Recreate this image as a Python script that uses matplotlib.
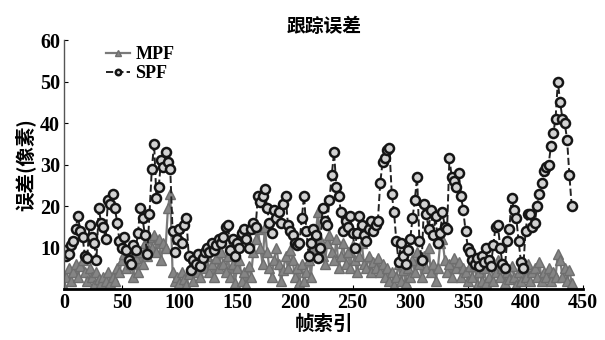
import matplotlib
matplotlib.use('Agg')
import matplotlib.pyplot as plt
import numpy as np

# frame index (every second frame)
frames = np.arange(0, 441, 2)

# tracking error, pixels
mpf_err = [
    0.5, 3, 5, 2, 4, 6, 3, 5.5, 7, 4,
    2, 5, 3, 1, 4, 2.5, 1.5, 3, 2, 4,
    1.5, 3, 2, 5, 4, 7, 8.5, 5, 9, 6,
    3, 7.5, 4, 9, 6, 11, 8, 12.5, 10, 13,
    9, 12, 7, 11, 10, 19.5, 23, 4, 2, 3,
    1.5, 4, 2.5, 1, 3.5, 5, 2, 6, 4, 3,
    7, 5, 8, 4, 6, 3, 7.5, 5, 9, 6,
    4, 8, 3, 6, 1.5, 5, 7, 2, 4, 1,
    5.5, 3, 9, 12, 14.5, 10, 6, 15, 9, 5,
    3, 7, 10, 6, 2, 4.5, 8, 5, 9.5, 7,
    3, 5, 1.5, 6, 2, 4, 7, 3, 10, 13,
    18.5, 12, 8, 6, 11, 13, 9, 7, 12, 5,
    8, 11, 6, 9, 5, 10.5, 7, 4, 8, 11,
    6, 5, 8, 4, 6.5, 5, 7.5, 4, 6, 3,
    5, 2, 4, 1, 3, 6, 2, 4.5, 1.5, 5,
    3, 7, 4, 9, 6, 3, 8, 5, 10, 4,
    6, 2, 5, 11, 12, 7, 4, 6, 3, 7.5,
    5, 6.5, 3, 5, 4, 2, 5.5, 3, 6, 1,
    4, 2, 5, 1.5, 3, 6, 2, 4, 7, 3,
    5, 1.5, 4, 2.5, 5.5, 3, 1, 4, 2, 5,
    3, 6, 2, 4, 5, 3, 6.5, 2, 4, 3,
    5, 2, 4, 3, 8.5, 7, 3, 5, 2, 4.5,
    1.5,
]

spf_err = [
    9.5, 8, 8.5, 10.5, 11.5, 14.5, 17.5, 14, 12.5, 8,
    7.5, 15.5, 12.5, 11, 7, 19.5, 16, 15, 12, 21.5,
    20.5, 23, 19.5, 16, 11.5, 10, 12.5, 9.5, 7, 6,
    10.5, 9.5, 13.5, 19.5, 17, 13, 8.5, 18, 29, 35,
    22, 24.5, 31, 29.5, 33, 30.5, 29, 14, 9, 12,
    14.5, 11, 15.5, 17, 8, 4.5, 7, 6, 8.5, 5.5,
    7.5, 9, 10, 9, 11, 9.5, 10.5, 12, 11, 12.5,
    15, 15.5, 9.5, 12, 8, 11, 10, 13.5, 14.5, 12,
    10, 14.5, 16, 15, 22.5, 21, 22.5, 24, 19.5, 16,
    13.5, 19, 17, 18.5, 16, 20.5, 22.5, 15.5, 14, 13,
    11, 10.5, 11, 17, 22.5, 14, 8, 11, 14.5, 13,
    7.5, 10, 19.5, 16.5, 15.5, 21.5, 27.5, 33, 24.5, 22.5,
    18.5, 14, 16.5, 15, 17.5, 13.5, 10, 13.5, 17.5, 15.5,
    13, 11.5, 14.5, 16.5, 14, 15.5, 16.5, 25.5, 30.5, 31.5,
    33.5, 34, 23, 18.5, 11.5, 6.5, 11, 8, 6, 9.5,
    12, 17, 21.5, 27, 11.5, 7, 20.5, 18, 14.5, 19,
    13, 17.5, 11, 13.5, 18.5, 15, 14.5, 31.5, 27, 26,
    24.5, 28, 22.5, 19, 14, 10, 9, 7, 6, 7.5,
    5.5, 8, 6.5, 10, 7, 5.5, 10.5, 15, 15.5, 10,
    6, 5, 11.5, 14.5, 22, 19, 17, 11.5, 6.5, 5,
    14, 18, 18, 15, 16, 20, 23, 25.5, 28.5, 29.5,
    30, 34.5, 37.5, 41, 50, 45, 41, 40, 36, 27.5,
    20,
]

x_ticks = [0, 50, 100, 150, 200, 250, 300, 350, 400, 450]
y_ticks = [10, 20, 30, 40, 50, 60]

cjk = ['Noto Sans CJK SC', 'DejaVu Sans']
num_font = {'family': 'Liberation Serif', 'weight': 'bold'}

fig = plt.figure(figsize=(6.05, 3.4), dpi=100)
ax = fig.add_axes([0.106, 0.150, 0.858, 0.732])

ax.plot(frames, mpf_err, '-', color='#7a7a7a', lw=1.6,
        marker='^', ms=7.5, mfc='#858585', mec='#6e6e6e', label='MPF')
ax.plot(frames, spf_err, '--', color='#222222', lw=1.4,
        marker='o', ms=6.5, mfc='#d2d2d2', mec='#151515', mew=1.8, label='SPF')

ax.set_xlim(0, 450)
ax.set_ylim(0, 60)
ax.set_xticks(x_ticks)
ax.set_yticks(y_ticks)
ax.set_xticklabels([str(t) for t in x_ticks], fontdict=num_font, fontsize=14.5)
ax.set_yticklabels([str(t) for t in y_ticks], fontdict=num_font, fontsize=14.5)
ax.tick_params(direction='in', length=3, width=0.8, pad=3)

for s in ['top', 'right']:
    ax.spines[s].set_visible(False)
ax.spines['left'].set_color('#555555')
ax.spines['left'].set_linewidth(1.0)
ax.spines['bottom'].set_color('black')
ax.spines['bottom'].set_linewidth(2.0)

ax.set_title('跟踪误差', family=cjk, fontsize=13.5, weight='bold', pad=6)
ax.set_xlabel('帧索引', family=cjk, fontsize=14, weight='bold', labelpad=1)
ax.set_ylabel('误差(像素)', family=cjk, fontsize=14, weight='bold', labelpad=3)

leg = ax.legend(loc='upper left', bbox_to_anchor=(0.05, 1.04), frameon=False,
                handlelength=1.3, handletextpad=0.3, labelspacing=0.1,
                prop={'family': 'Liberation Serif', 'weight': 'bold', 'size': 13},
                markerscale=0.6)

fig.savefig('out.png', dpi=100)
